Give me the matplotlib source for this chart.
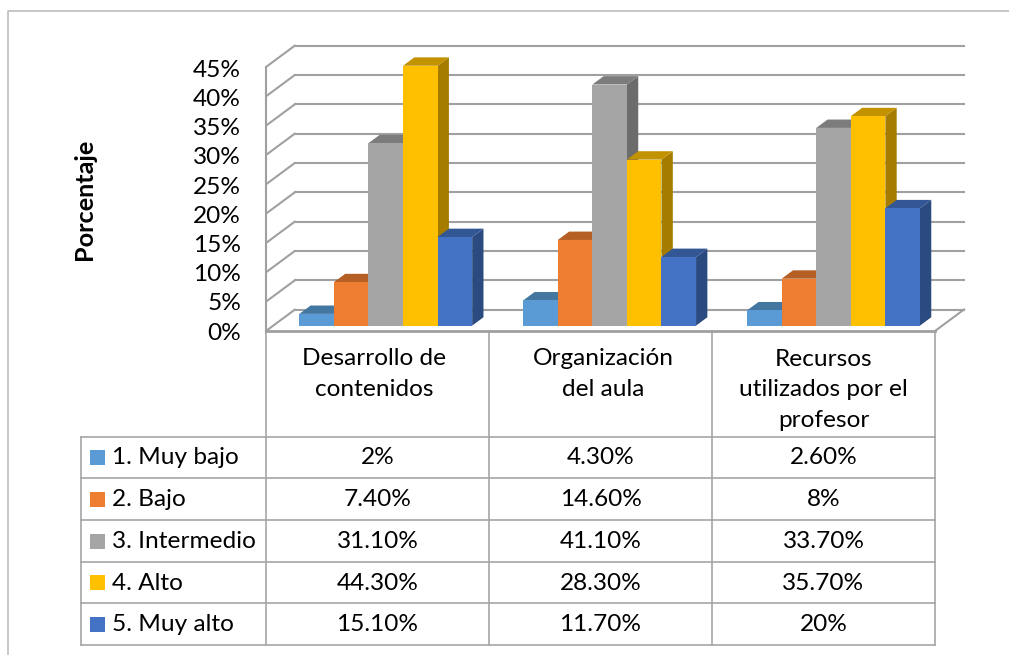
import numpy as np
import matplotlib
matplotlib.use("Agg")
import matplotlib.pyplot as plt

plt.rcParams['font.family'] = ['Lato', 'DejaVu Sans']

categories = ["Desarrollo de\ncontenidos", "Organización\ndel aula", "Recursos\nutilizados por el\nprofesor"]
series = ["1. Muy bajo", "2. Bajo", "3. Intermedio", "4. Alto", "5. Muy alto"]
muy_bajo = [2.0, 4.3, 2.6]
bajo = [7.4, 14.6, 8.0]
intermedio = [31.1, 41.1, 33.7]
alto = [44.3, 28.3, 35.7]
muy_alto = [15.1, 11.7, 20.0]
values = [muy_bajo, bajo, intermedio, alto, muy_alto]
table_text = [["2%", "4.30%", "2.60%"],
              ["7.40%", "14.60%", "8%"],
              ["31.10%", "41.10%", "33.70%"],
              ["44.30%", "28.30%", "35.70%"],
              ["15.10%", "11.70%", "20%"]]
yticks = [0, 5, 10, 15, 20, 25, 30, 35, 40, 45]

colors = ["#5B9BD5", "#ED7D31", "#A5A5A5", "#FFC000", "#4472C4"]
tops = ["#44779F", "#B55F25", "#7C7C7C", "#C29200", "#335694"]
sides = ["#3B6890", "#A05320", "#6C6C6C", "#A67C00", "#2A4A80"]

W, H = 1009, 655
fig = plt.figure(figsize=(W / 100, H / 100), dpi=100)

# page axes in pixels, for the frame and the table
page = fig.add_axes([0, 0, 1, 1])
page.set_xlim(0, W)
page.set_ylim(H, 0)
page.axis("off")

# plot axes: x is category number, y is percent
L, R, B, T = 266, 935, 331, 67
ax = fig.add_axes([L / W, 1 - B / H, (R - L) / W, (B - T) / H])
ax.set_xlim(0, 3)
ax.set_ylim(0, 45)
ax.axis("off")
ax.patch.set_alpha(0)

grid_c = "#A0A0A0"

# depth of the box, in data units
depth_x = 29 / ((R - L) / 3)
depth_y = 21.5 / ((B - T) / 45)

for t in yticks:
    ax.plot([0, depth_x], [t, t + depth_y], color=grid_c, lw=1.5, clip_on=False, zorder=1, solid_capstyle="round")
    ax.plot([depth_x, 3 + depth_x], [t + depth_y, t + depth_y], color=grid_c, lw=1.5, clip_on=False, zorder=1)
ax.plot([0, 0], [0, 45], color=grid_c, lw=1.5, clip_on=False, zorder=1)
ax.plot([3, 3 + depth_x], [0, depth_y], color=grid_c, lw=1.5, clip_on=False, zorder=1)
ax.plot([0, 3], [0, 0], color=grid_c, lw=2, clip_on=False, zorder=1)

# bars
bar_w = 0.155
front_x = 0.25 * depth_x
front_y = 0.25 * depth_y
bar_dx = 0.39 * depth_x
bar_dy = 0.39 * depth_y
start = 0.117

for i in range(len(series)):
    for g in range(len(categories)):
        x0 = g * 1.004 + start + front_x + i * bar_w
        v = values[i][g]
        y0 = front_y
        y1 = front_y + v
        ax.fill([x0 + bar_w, x0 + bar_w + bar_dx, x0 + bar_w + bar_dx, x0 + bar_w],
                [y0, y0 + bar_dy, y1 + bar_dy, y1], color=sides[i], lw=0, clip_on=False, zorder=2 + i)
        ax.fill([x0, x0 + bar_dx, x0 + bar_w + bar_dx, x0 + bar_w],
                [y1, y1 + bar_dy, y1 + bar_dy, y1], color=tops[i], lw=0, clip_on=False, zorder=2 + i)
        ax.bar(x0, v, bar_w, bottom=y0, align="edge", color=colors[i], lw=0, clip_on=False, zorder=2.5 + i)

fs = 17.6
for t in yticks:
    # labels sit a little below their gridline, more so at the top
    ax.text(-0.112, t * 0.995 - 0.35, "%d%%" % t, ha="right", va="center", fontsize=fs, color="black", clip_on=False)

page.text(84, 199, "Porcentaje", rotation=90, ha="center", va="center", fontsize=18.2, fontweight="bold")

# outer frame
page.plot([7.5, 7.5, W], [H, 10.5, 10.5], color="#BDBDBD", lw=1.2)

# table
col_x = [266, 489, 712, 935]
row_y = [437, 478, 520, 562, 603, 645]
tl = "#A6A6A6"
for x in col_x:
    page.plot([x, x], [B, row_y[-1]], color=tl, lw=1.2)
page.plot([81, 81], [row_y[0], row_y[-1]], color=tl, lw=1.2)
for y in row_y:
    page.plot([81, col_x[-1]], [y, y], color=tl, lw=1.2)

cat_y = [374, 374, 390]
cat_dx = [-3, 3, 0]
for g, name in enumerate(categories):
    page.text((col_x[g] + col_x[g + 1]) / 2 + cat_dx[g], cat_y[g], name, ha="center", va="center", fontsize=fs,
              linespacing=1.55)

for i, name in enumerate(series):
    yc = (row_y[i] + row_y[i + 1]) / 2
    page.fill([90, 105, 105, 90], [yc - 7.5, yc - 7.5, yc + 7.5, yc + 7.5], color=colors[i], lw=0)
    page.text(112, yc + 0.5, name, ha="left", va="center", fontsize=fs)
    for g in range(3):
        page.text((col_x[g] + col_x[g + 1]) / 2, yc + 0.5, table_text[i][g], ha="center", va="center", fontsize=fs)

fig.savefig("out.png", dpi=100)
